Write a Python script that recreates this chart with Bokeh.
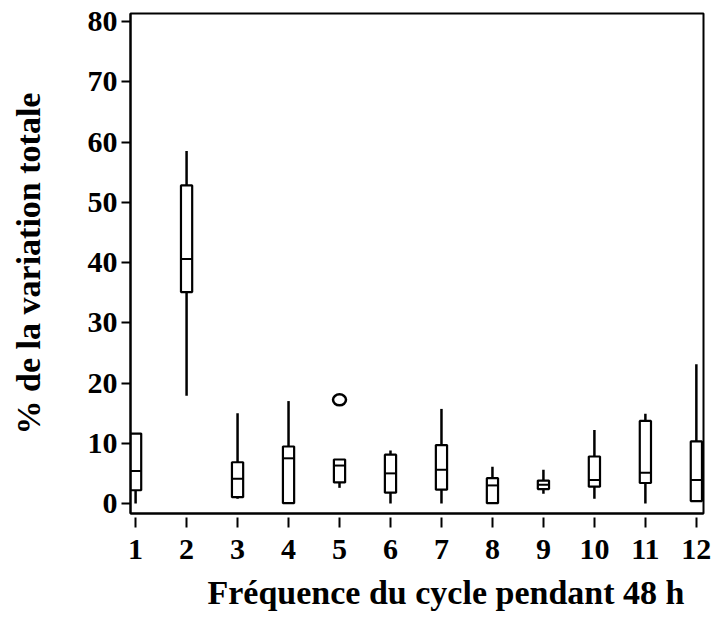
from bokeh.plotting import figure
from bokeh.models import Range1d, FixedTicker, Title, ColumnDataSource
from bokeh.embed import file_html
from bokeh.resources import INLINE

# Box-plot summaries per cycle frequency (% of total variation)
cycles = [1, 2, 3, 4, 5, 6, 7, 8, 9, 10, 11, 12]
whisker_low = [0.0, 17.9, 0.8, 0.05, 2.6, 0.0, 0.0, 0.05, 1.6, 0.8, 0.0, 0.4]
q1 = [2.2, 35.1, 1.05, 0.05, 3.5, 1.8, 2.3, 0.05, 2.4, 2.8, 3.4, 0.4]
median = [5.4, 40.6, 4.1, 7.5, 6.3, 5.0, 5.6, 3.0, 3.1, 3.9, 5.1, 3.9]
q3 = [11.6, 52.8, 6.85, 9.46, 7.3, 8.1, 9.7, 4.2, 3.8, 7.8, 13.7, 10.3]
whisker_high = [11.6, 58.5, 15.0, 17.0, 7.3, 8.8, 15.7, 6.1, 5.6, 12.2, 14.9, 23.1]

outlier_cycle = [5]
outlier_value = [17.2]

y_ticks = [0, 10, 20, 30, 40, 50, 60, 70, 80]

FONT = "Liberation Serif"

src = ColumnDataSource(dict(x=cycles, lo=whisker_low, q1=q1, med=median,
                            q3=q3, hi=whisker_high))

p = figure(width=713, height=622, output_backend="svg", toolbar_location=None,
           x_range=Range1d(0.9, 12.14), y_range=Range1d(-1.66, 81.33),
           min_border_left=130, min_border_right=10, min_border_top=13,
           min_border_bottom=109)

p.background_fill_color = "white"
p.border_fill_color = "white"
p.outline_line_color = "black"
p.outline_line_width = 2
p.xgrid.visible = False
p.ygrid.visible = False

# whiskers
p.segment(x0="x", y0="q3", x1="x", y1="hi", source=src, line_color="black", line_width=2.5)
p.segment(x0="x", y0="lo", x1="x", y1="q1", source=src, line_color="black", line_width=2.5)
# boxes
p.vbar(x="x", width=0.22, bottom="q1", top="q3", source=src,
       fill_color="white", line_color="black", line_width=2.2)
# medians
p.scatter(x="x", y="med", source=src, marker="dash", size=11.5,
          line_color="black", line_width=2)
# outlier
p.ellipse(x=outlier_cycle, y=outlier_value, width=13, height=11,
          width_units="screen", height_units="screen",
          fill_color=None, line_color="black", line_width=2.5)

# x axis
xa = p.xaxis[0]
xa.ticker = FixedTicker(ticks=cycles)
xa.minor_tick_line_color = None
xa.major_tick_in = -4
xa.major_tick_out = 14
xa.major_tick_line_width = 2
xa.axis_line_width = 2
xa.major_label_standoff = 12
xa.major_label_text_font = FONT
xa.major_label_text_font_style = "bold"
xa.major_label_text_font_size = "30px"
xa.major_label_text_color = "black"

# y axis
ya = p.yaxis[0]
ya.ticker = FixedTicker(ticks=y_ticks)
ya.minor_tick_line_color = None
ya.major_tick_in = 0
ya.major_tick_out = 9
ya.major_tick_line_width = 2
ya.axis_line_width = 2
ya.major_label_standoff = 4
ya.major_label_text_font = FONT
ya.major_label_text_font_style = "bold"
ya.major_label_text_font_size = "30px"
ya.major_label_text_color = "black"
ya.axis_label = "% de la variation totale"
ya.axis_label_text_font = FONT
ya.axis_label_text_font_style = "bold"
ya.axis_label_text_font_size = "34px"
ya.axis_label_text_color = "black"
ya.axis_label_standoff = 38

p.add_layout(Title(text="Fréquence du cycle pendant 48 h", align="left", offset=77,
                   text_font=FONT, text_font_style="bold", text_font_size="34px",
                   text_color="black", standoff=20), "below")

open("out.html", "w").write(file_html(p, INLINE))
